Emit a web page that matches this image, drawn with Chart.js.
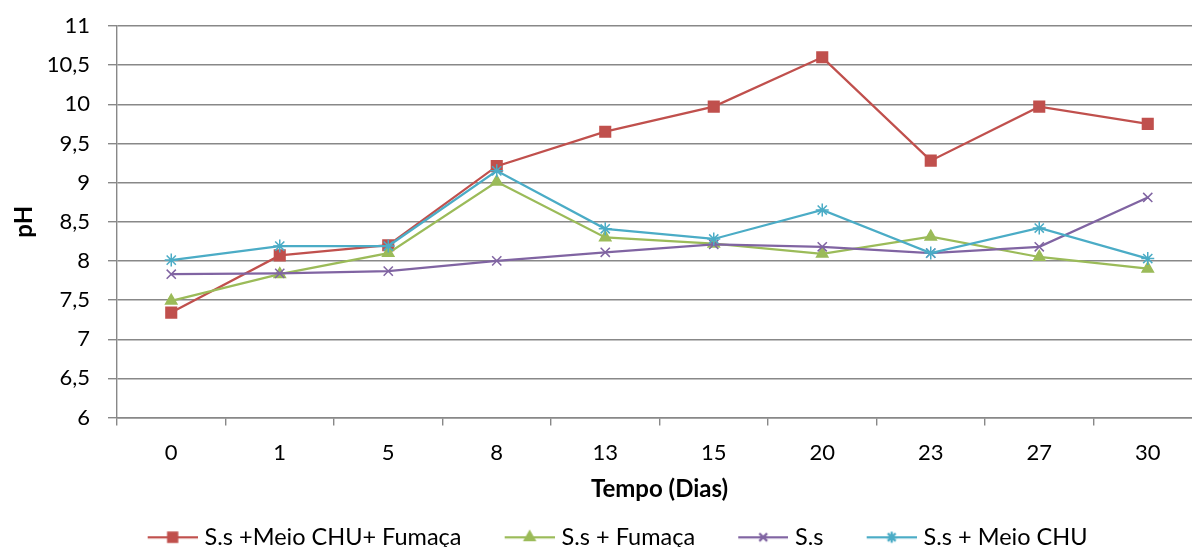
<!DOCTYPE html>
<html>
<head>
<meta charset="utf-8">
<title>pH x Tempo</title>
<script src="https://cdn.jsdelivr.net/npm/chart.js@4"></script>
<style>
    html, body { margin: 0; padding: 0; background: #fff; overflow: hidden; }
    #wrap { width: 1240px; height: 547px; }
</style>
</head>
<body>
<div id="wrap"><canvas id="chart1" width="1240" height="547"></canvas></div>
<script>
// dias de coleta
var dias = ["0", "1", "5", "8", "13", "15", "20", "23", "27", "30"];

// pH de cada tratamento
var phMeioChuFumaca = [7.34, 8.07, 8.20, 9.21, 9.65, 9.97, 10.60, 9.28, 9.97, 9.75];
var phFumaca = [7.49, 7.83, 8.10, 9.01, 8.30, 8.22, 8.09, 8.31, 8.05, 7.90];
var phSs = [7.83, 7.84, 7.87, 8.00, 8.11, 8.21, 8.18, 8.10, 8.18, 8.81];
var phMeioChu = [8.01, 8.19, 8.19, 9.15, 8.41, 8.28, 8.65, 8.10, 8.42, 8.03];

// eixo y
var yMin = 6, yMax = 11, yStep = 0.5;

var gridColor = '#888888';
var fontFamily = 'Lato, "Open Sans", sans-serif';
var legendSize = 23.5;

// linha + marcador da legenda (a imagem passa um pouco da caixa do item)
var iconBox = 78.25, iconOver = legendSize / 2 - 7, iconLine = 50;
function legendIcon(color, style, radius) {
    var c = document.createElement('canvas');
    c.width = Math.round(iconBox + 2 * iconOver);
    c.height = 22;
    var g = c.getContext('2d');
    var x1 = c.width, x0 = x1 - iconLine;
    g.strokeStyle = color;
    g.fillStyle = color;
    g.lineWidth = 2.25;
    g.beginPath();
    g.moveTo(x0, 11);
    g.lineTo(x1, 11);
    g.stroke();
    Chart.helpers.drawPoint(g, { pointStyle: style, radius: radius, borderWidth: 1.5, rotation: 0 }, (x0 + x1) / 2, 11);
    return c;
}

var series = [
    { label: 'S.s +Meio CHU+ Fumaça', data: phMeioChuFumaca, color: '#C0504D', style: 'rect', radius: 7.5, order: 4 },
    { label: 'S.s + Fumaça', data: phFumaca, color: '#9BBB59', style: 'triangle', radius: 6.5, order: 3 },
    { label: 'S.s', data: phSs, color: '#8064A2', style: 'crossRot', radius: 6.5, order: 2 },
    { label: 'S.s + Meio CHU', data: phMeioChu, color: '#4BACC6', style: 'star', radius: 6.5, order: 1 }
];

var icons = series.map(function (s) { return legendIcon(s.color, s.style, s.radius * 0.85); });

var ctxChart1 = document.getElementById('chart1').getContext('2d');
var chart1 = new Chart(ctxChart1, {
    type: 'line',
    data: {
        labels: dias,
        datasets: series.map(function (s) {
            return {
                label: s.label,
                data: s.data,
                borderColor: s.color,
                backgroundColor: s.color,
                pointBackgroundColor: s.color,
                pointBorderColor: s.color,
                pointStyle: s.style,
                pointRadius: s.radius,
                pointHoverRadius: s.radius,
                pointBorderWidth: 1.5,
                borderWidth: 2.25,
                tension: 0,
                fill: false,
                order: s.order
            };
        })
    },
    options: {
        responsive: false,
        animation: false,
        layout: { padding: { top: 26, right: 38, bottom: -12, left: 0 } },
        plugins: {
            tooltip: { enabled: false },
            title: { display: false },
            legend: {
                position: 'bottom',
                labels: {
                    usePointStyle: true,
                    pointStyleWidth: iconBox,
                    padding: 10,
                    color: '#000',
                    font: { family: fontFamily, size: legendSize },
                    generateLabels: function (chart) {
                        return chart.data.datasets.map(function (ds, i) {
                            return {
                                text: ds.label,
                                pointStyle: icons[i],
                                fillStyle: ds.borderColor,
                                strokeStyle: ds.borderColor,
                                lineWidth: 0,
                                fontColor: '#000',
                                hidden: false,
                                datasetIndex: i
                            };
                        });
                    }
                }
            }
        },
        scales: {
            x: {
                offset: true,
                grid: {
                    offset: true,
                    drawOnChartArea: false,
                    color: gridColor,
                    lineWidth: 1.4,
                    tickLength: 8
                },
                border: { color: gridColor, width: 1.4 },
                ticks: {
                    color: '#000',
                    padding: 14,
                    maxRotation: 0,
                    font: { family: fontFamily, size: 22 }
                },
                title: {
                    display: true,
                    text: 'Tempo (Dias)',
                    color: '#000',
                    padding: { top: 0, bottom: 12 },
                    font: { family: fontFamily, size: 24, weight: 'bold' }
                },
                afterFit: function (scale) { scale.height = 98; }
            },
            y: {
                min: yMin,
                max: yMax,
                grid: {
                    color: gridColor,
                    lineWidth: 1.4,
                    tickLength: 9
                },
                border: { color: gridColor, width: 1.4 },
                ticks: {
                    stepSize: yStep,
                    color: '#000',
                    padding: 18,
                    font: { family: fontFamily, size: 22 },
                    callback: function (v) { return String(v).replace('.', ','); }
                },
                title: {
                    display: true,
                    text: 'pH',
                    color: '#000',
                    padding: { top: 9.6, bottom: 0 },
                    font: { family: fontFamily, size: 24, weight: 'bold' }
                },
                afterFit: function (scale) {
                    scale.width = 117;
                    // a margem vem só do layout.padding
                    scale.paddingTop = 0;
                    scale.paddingBottom = 0;
                }
            }
        }
    }
});
</script>
</body>
</html>
